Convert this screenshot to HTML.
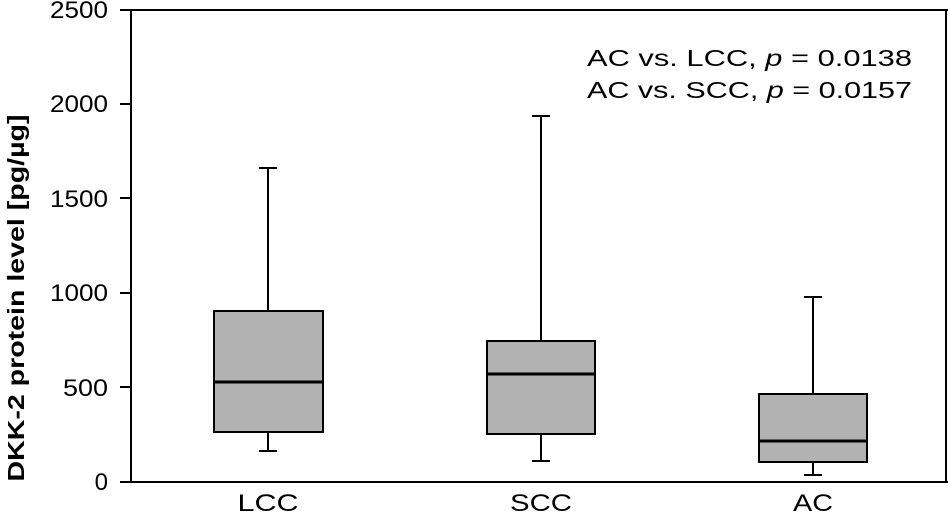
<!DOCTYPE html>
<html><head><style>body{margin:0;background:#fff}svg{display:block}</style></head><body>
<svg width="948" height="515" xmlns="http://www.w3.org/2000/svg" font-family="Liberation Sans, sans-serif">
<g stroke="#000" stroke-width="2" fill="none">
<line x1="131" y1="10" x2="131" y2="482"/>
<line x1="120" y1="482" x2="948" y2="482"/>
<line x1="120" y1="10" x2="948" y2="10"/>
<line x1="946" y1="10" x2="946" y2="482"/>
<line x1="120" y1="387" x2="131" y2="387"/>
<line x1="120" y1="293" x2="131" y2="293"/>
<line x1="120" y1="198" x2="131" y2="198"/>
<line x1="120" y1="104" x2="131" y2="104"/>
</g>
<g font-size="24" text-anchor="end" fill="#000">
<text x="108" y="490">0</text><text x="108" y="396" textLength="45" lengthAdjust="spacingAndGlyphs">500</text><text x="108" y="301" textLength="58" lengthAdjust="spacingAndGlyphs">1000</text>
<text x="108" y="207" textLength="58" lengthAdjust="spacingAndGlyphs">1500</text><text x="108" y="112" textLength="58" lengthAdjust="spacingAndGlyphs">2000</text><text x="108" y="18" textLength="58" lengthAdjust="spacingAndGlyphs">2500</text>
</g>
<text transform="translate(24,298) rotate(-90)" font-size="23" font-weight="bold" text-anchor="middle" textLength="367" lengthAdjust="spacingAndGlyphs">DKK-2 protein level [pg/µg]</text>
<g stroke="#000" stroke-width="2" fill="#b2b2b2">
<line x1="268" y1="168" x2="268" y2="311"/><line x1="259" y1="168" x2="277" y2="168"/>
<line x1="268" y1="432" x2="268" y2="451"/><line x1="259" y1="451" x2="277" y2="451"/>
<rect x="214" y="311" width="109" height="121"/>
<line x1="214" y1="382" x2="323" y2="382" stroke-width="3"/>
<line x1="541" y1="116" x2="541" y2="341"/><line x1="532" y1="116" x2="550" y2="116"/>
<line x1="541" y1="434" x2="541" y2="461"/><line x1="532" y1="461" x2="550" y2="461"/>
<rect x="487" y="341" width="108" height="93"/>
<line x1="487" y1="374" x2="595" y2="374" stroke-width="3"/>
<line x1="813" y1="297" x2="813" y2="394"/><line x1="804" y1="297" x2="822" y2="297"/>
<line x1="813" y1="462" x2="813" y2="475"/><line x1="804" y1="475" x2="822" y2="475"/>
<rect x="759" y="394" width="108" height="68"/>
<line x1="759" y1="441" x2="867" y2="441" stroke-width="3"/>
</g>
<g font-size="24" text-anchor="middle">
<text x="268" y="511" textLength="61" lengthAdjust="spacingAndGlyphs">LCC</text><text x="541" y="511" textLength="62" lengthAdjust="spacingAndGlyphs">SCC</text><text x="813" y="511" textLength="40" lengthAdjust="spacingAndGlyphs">AC</text>
</g>
<g font-size="23" text-anchor="end">
<text x="912" y="66" textLength="325" lengthAdjust="spacingAndGlyphs">AC vs. LCC, <tspan font-style="italic">p</tspan> = 0.0138</text>
<text x="912" y="98" textLength="325" lengthAdjust="spacingAndGlyphs">AC vs. SCC, <tspan font-style="italic">p</tspan> = 0.0157</text>
</g>
</svg>
</body></html>
